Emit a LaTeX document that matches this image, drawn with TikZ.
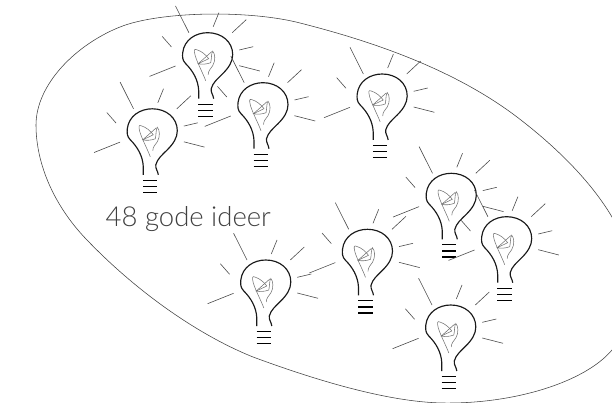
\documentclass[tikz,border=0pt]{standalone}
\usepackage{fontspec}
\newfontfamily\lblfont{Lato Light}
\tikzset{
  raystroke/.style={line width=0.6pt,draw=black!70},
  glass/.style={line width=1.15pt,draw=black!90,line join=round},
  wire/.style={line width=0.55pt,draw=black!55},
  basebar/.style={line width=1.1pt,draw=black},
  outlineshape/.style={line width=0.55pt,draw=black!75},
  bulb/.pic={
    \draw[glass] (-9,66) -- (-9,58) .. controls (-9.5,47) and (-15,38) .. (-22,31)
      .. controls (-25.5,27.5) and (-25.3,24) .. (-25,20)
      .. controls (-23.5,7) and (-12,0) .. (0,0)
      .. controls (14,0) and (25,9) .. (25,22)
      .. controls (25,29) and (21,35) .. (15,41)
      .. controls (10,46) and (5,50) .. (3.5,56)
      .. controls (3,60) and (5.5,62) .. (6,66);
    \draw[basebar] (-9.3,71.5) -- (5,71.5) (-9.3,77.7) -- (5,77.7) (-9.3,83.7) -- (5,83.7);
    \draw[wire] (-2,48) .. controls (-5,40) and (-10,31) .. (-12.5,23)
      .. controls (-14,17) and (-13.5,16) .. (-11,17)
      .. controls (-6,18.5) and (-2,22) .. (1,26)
      -- (-9.5,31) .. controls (-6,32) and (-1,31.5) .. (3,30)
      .. controls (4,26) and (3.5,20) .. (5,18.5)
      .. controls (7.5,21) and (8,28) .. (5,33)
      .. controls (3,36) and (0.5,38) .. (0.5,42);
    \draw[wire] (-9.5,31) -- (4,19);
    \draw[raystroke] (-32.2,-26.7) -- (-18.8,0) (11.2,-20) -- (5.5,-6) (38.5,-13) -- (24.5,0)
      (45.5,14) -- (31.5,17.3) (52.2,38.3) -- (31.5,33) (-32.2,33.3) -- (-58.2,43.7)
      (-36.2,14.3) -- (-45.5,3.7);
  }
}
\begin{document}
\begin{tikzpicture}[x=1pt,y=-1pt]
\useasboundingbox (0,0) rectangle (612,403);
\clip (0,0) rectangle (612,403);
\draw[outlineshape] (36,125) .. controls (36,85) and (75,45) .. (120,27)
  .. controls (160,11) and (250,10) .. (300,23)
  .. controls (375,42) and (455,70) .. (517,117)
  .. controls (555,146) and (590,180) .. (612,217)
  .. controls (640,265) and (640,320) .. (612,350)
  .. controls (585,382) and (515,404) .. (443,403)
  .. controls (385,402) and (310,378) .. (253,357)
  .. controls (196,334) and (135,290) .. (87,240)
  .. controls (55,207) and (36,165) .. (36,125) -- cycle;
\pic at (152.3,108.8) {bulb};
\pic at (207.7,32.7) {bulb};
\pic at (263,82.7) {bulb};
\pic at (382.2,74) {bulb};
\pic at (451.3,173.3) {bulb};
\pic at (506.7,216.7) {bulb};
\pic at (367.5,229.3) {bulb};
\pic at (265.8,260) {bulb};
\pic at (450.8,305) {bulb};
\node[anchor=base west,inner sep=0pt,text=black!75,font=\lblfont\fontsize{27.5}{32}\selectfont] (label) at (105.5,226.7) {48 gode ideer};
\end{tikzpicture}
\end{document}
